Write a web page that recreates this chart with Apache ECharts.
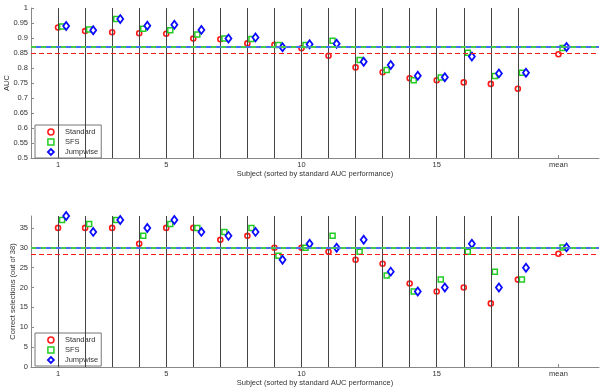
<!DOCTYPE html>
<html>
<head>
<meta charset="utf-8">
<script src="https://cdn.jsdelivr.net/npm/echarts@6/dist/echarts.min.js"></script>
<style>
  html, body { margin: 0; padding: 0; background: #fff; }
  #chart { width: 605px; height: 391px; }
</style>
</head>
<body>
<div id="chart"></div>
<script>
// subject positions on the x axis (mean sits apart at 19.5)
var positions = [1, 2, 3, 4, 5, 6, 7, 8, 9, 10, 11, 12, 13, 14, 15, 16, 17, 18, 19.5];
var subjectLines = [1, 2, 3, 4, 5, 6, 7, 8, 9, 10, 11, 12, 13, 14, 15, 16, 17, 18];
var xTicks = [1, 5, 10, 15, 19.5];
var xTickLabels = ['1', '5', '10', '15', 'mean'];
var selTicks = [0, 5, 10, 15, 20, 25, 30, 35];

// AUC (last value = mean)
var aucStandard = [0.935, 0.923, 0.919, 0.916, 0.914, 0.898, 0.896, 0.882, 0.877, 0.866, 0.841, 0.802, 0.786, 0.766, 0.759, 0.752, 0.747, 0.731, 0.846];
var aucSFS = [0.938, 0.928, 0.963, 0.931, 0.926, 0.912, 0.898, 0.897, 0.877, 0.877, 0.891, 0.827, 0.793, 0.759, 0.768, 0.851, 0.773, 0.784, 0.867];
var aucJumpwise = [0.940, 0.926, 0.963, 0.941, 0.944, 0.927, 0.898, 0.902, 0.869, 0.879, 0.881, 0.821, 0.810, 0.774, 0.769, 0.838, 0.782, 0.784, 0.870];

// correct selections out of 38 (last value = mean)
var selStandard = [35, 35, 35, 31, 35, 35, 32, 33, 30, 30, 29, 27, 26, 21, 19, 20, 16, 22, 28.5];
var selSFS = [37, 36, 37, 33, 36, 35, 34, 35, 28, 30, 33, 29, 23, 19, 22, 29, 24, 22, 30.1];
var selJumpwise = [38, 34, 37, 35, 37, 34, 33, 34, 27, 31, 30, 32, 24, 19, 20, 31, 20, 25, 30.1];

var red = '#ff1a1a', green = '#22cc22', blue = '#0a0aff';
var txt = '#333', axisCol = '#888';
var font = 'Liberation Sans';
var fs = 7.5;

var stdStyle = { color: '#fff', borderColor: red, borderWidth: 1.6, opacity: 1 };
var sfsStyle = { color: '#fff', borderColor: green, borderWidth: 1.5, opacity: 1 };
var jmpStyle = { color: '#fff', borderColor: blue, borderWidth: 1.8, opacity: 1 };

function pts(vals, off) {
  return vals.map(function (v, i) { return [positions[i] + off, v]; });
}
function meanLine(vals, color, width, dash, dashOffset) {
  return {
    silent: true, symbol: 'none', label: { show: false },
    lineStyle: { color: color, width: width, type: dash, dashOffset: dashOffset || 0 },
    data: [{ yAxis: vals[vals.length - 1] }]
  };
}
function xAxisCfg(idx, name) {
  return {
    gridIndex: idx, type: 'value', min: 0, max: 21,
    name: name, nameLocation: 'middle', nameGap: 12, nameMoveOverlap: false,
    nameTextStyle: { color: txt, fontSize: fs, fontFamily: font },
    axisLine: { show: true, lineStyle: { color: axisCol } },
    axisTick: { show: true, inside: true, length: 3, customValues: xTicks, lineStyle: { color: axisCol } },
    axisLabel: {
      customValues: xTicks, color: txt, fontSize: fs, fontFamily: font, margin: 3,
      formatter: function (v) { return xTickLabels[xTicks.indexOf(v)] || ''; }
    },
    splitLine: { show: false }
  };
}
function yAxisCfg(idx, name, min, max, ticks, gap) {
  var tickCfg = { show: true, inside: true, length: 3, lineStyle: { color: axisCol } };
  var labelCfg = { color: txt, fontSize: fs, fontFamily: font, margin: 3 };
  if (ticks) { tickCfg.customValues = ticks; labelCfg.customValues = ticks; }
  return {
    gridIndex: idx, type: 'value', min: min, max: max, interval: ticks ? undefined : 0.05,
    name: name, nameLocation: 'middle', nameGap: gap, nameRotate: 90, nameMoveOverlap: false,
    nameTextStyle: { color: txt, fontSize: fs, fontFamily: font },
    axisLine: { show: true, lineStyle: { color: axisCol } },
    axisTick: tickCfg, axisLabel: labelCfg,
    splitLine: { show: false }
  };
}
function legendCfg(top) {
  return {
    data: [
      { name: 'Standard', icon: 'circle', itemStyle: stdStyle },
      { name: 'SFS', icon: 'rect', itemStyle: sfsStyle },
      { name: 'Jumpwise', icon: 'diamond', itemStyle: jmpStyle }
    ],
    orient: 'vertical', left: 35, top: top,
    itemWidth: 6, itemHeight: 6, itemGap: 2, padding: [3, 3, 2, 12],
    borderColor: '#777', borderWidth: 1, backgroundColor: '#fff',
    textStyle: { color: txt, fontSize: fs, fontFamily: font, lineHeight: 7, padding: [0, 0, 0, 6] }
  };
}
function chartSeries(idx, std, sfs, jmp) {
  return [
    {
      name: '', type: 'scatter', xAxisIndex: idx, yAxisIndex: idx, data: [], z: 1,
      markLine: {
        silent: true, symbol: 'none', label: { show: false },
        lineStyle: { color: '#444', width: 1, type: 'solid' },
        data: subjectLines.map(function (x) { return { xAxis: x }; })
      }
    },
    {
      name: 'Standard', type: 'scatter', xAxisIndex: idx, yAxisIndex: idx, z: 3,
      symbol: 'circle', symbolSize: 5, itemStyle: stdStyle,
      data: pts(std, 0),
      markLine: meanLine(std, red, 1, [5, 3])
    },
    {
      name: 'SFS', type: 'scatter', xAxisIndex: idx, yAxisIndex: idx, z: 3,
      symbol: 'rect', symbolSize: 5, itemStyle: sfsStyle,
      data: pts(sfs, 0.15),
      markLine: meanLine(sfs, '#44cc44', 2, [5, 5], 0)
    },
    {
      name: 'Jumpwise', type: 'scatter', xAxisIndex: idx, yAxisIndex: idx, z: 4,
      symbol: 'diamond', symbolSize: [6, 8], itemStyle: jmpStyle,
      data: pts(jmp, 0.3),
      markLine: meanLine(jmp, '#4a6cf0', 2, [5, 5], 5)
    }
  ];
}

var chart = echarts.init(document.getElementById('chart'));
chart.setOption({
  animation: false,
  backgroundColor: '#fff',
  grid: [
    { left: 31, right: 6, top: 8, height: 150, outerBoundsMode: 'none', containLabel: false },
    { left: 31, right: 6, top: 216, height: 151, outerBoundsMode: 'none', containLabel: false }
  ],
  legend: [legendCfg(125), legendCfg(333)],
  xAxis: [
    xAxisCfg(0, 'Subject (sorted by standard AUC performance)'),
    xAxisCfg(1, 'Subject (sorted by standard AUC performance)')
  ],
  yAxis: [
    yAxisCfg(0, 'AUC', 0.5, 1, null, 20),
    yAxisCfg(1, 'Correct selections (out of 38)', 0, 38, selTicks, 14)
  ],
  series: chartSeries(0, aucStandard, aucSFS, aucJumpwise)
    .concat(chartSeries(1, selStandard, selSFS, selJumpwise))
});
</script>
</body>
</html>
